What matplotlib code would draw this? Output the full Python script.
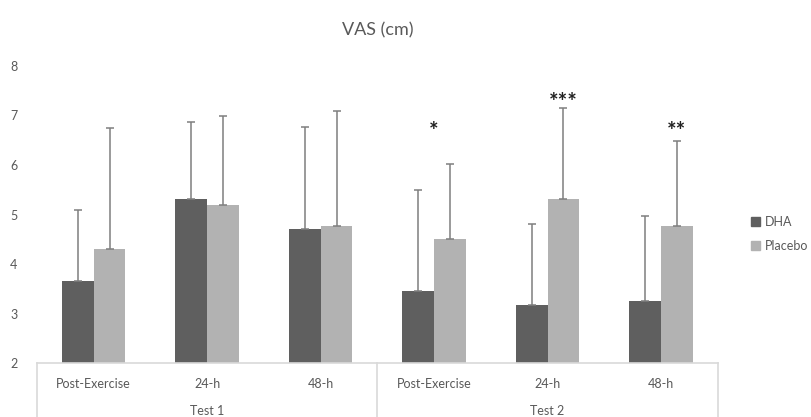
import numpy as np
import matplotlib
matplotlib.use("Agg")
import matplotlib.pyplot as plt
from matplotlib.lines import Line2D
from matplotlib.patches import Patch

plt.rcParams["font.family"] = ["Lato", "DejaVu Sans"]

# data
timepoints = ["Post-Exercise", "24-h", "48-h", "Post-Exercise", "24-h", "48-h"]
tests = ["Test 1", "Test 2"]
dha = [3.65, 5.31, 4.71, 3.46, 3.18, 3.25]
dha_sd = [1.45, 1.55, 2.05, 2.03, 1.62, 1.71]
placebo = [4.30, 5.19, 4.77, 4.51, 5.31, 4.77]
placebo_sd = [2.45, 1.80, 2.32, 1.51, 1.84, 1.71]
stars = ["", "", "", "*", "***", "**"]
star_y = [0, 0, 0, 6.84, 7.43, 6.84]

C_DHA = "#5f5f5f"
C_PLA = "#b2b2b2"
C_ERR = "#7f7f7f"
C_TXT = "#595959"
C_LINE = "#d9d9d9"

fig = plt.figure(figsize=(8.12, 4.17), dpi=100)
ax = fig.add_axes([37 / 812, 53.7 / 417, 680.7 / 812, 297.6 / 417])

x = np.arange(len(timepoints))
w = 0.28
ax.bar(x - w / 2, dha, w, color=C_DHA, label="DHA")
ax.bar(x + w / 2, placebo, w, color=C_PLA, label="Placebo")
ax.errorbar(x - w / 2, dha, yerr=[np.zeros(6), dha_sd], fmt="none",
            ecolor=C_ERR, elinewidth=1.1, capsize=3, capthick=1.1)
ax.errorbar(x + w / 2, placebo, yerr=[np.zeros(6), placebo_sd], fmt="none",
            ecolor=C_ERR, elinewidth=1.1, capsize=3, capthick=1.1)

# significance markers
sx = [0, 0, 0, 3, 4 + w / 2, 5 + w / 2]
for i, s in enumerate(stars):
    if s:
        ax.annotate(s, (sx[i], star_y[i]), xytext=(0, -6), textcoords="offset points",
                    ha="center", va="center", fontsize=16, fontweight="bold",
                    color="#222222")

ax.set_xlim(-0.5, 5.5)
ax.set_ylim(2, 8)
ax.set_yticks(range(2, 9))
ax.tick_params(axis="y", length=0, pad=14, labelsize=9, labelcolor=C_TXT)
ax.set_xticks([])
for sp in ["top", "right", "left"]:
    ax.spines[sp].set_visible(False)
ax.spines["bottom"].set_color(C_LINE)
ax.spines["bottom"].set_linewidth(1.2)

# two-level category axis
trans = ax.get_xaxis_transform()
for i, lab in enumerate(timepoints):
    ax.text(i, -0.07, lab, transform=trans, ha="center", va="center",
            fontsize=9, color=C_TXT)
for j, t in enumerate(tests):
    ax.text(1 + 3 * j, -0.16, t, transform=trans, ha="center", va="center",
            fontsize=9, color=C_TXT)
for xv in [-0.5, 2.5, 5.5]:
    ax.add_line(Line2D([xv, xv], [0, -0.2], transform=trans, color=C_LINE,
                       lw=1.2, clip_on=False))

ax.set_title("VAS (cm)", fontsize=13, color=C_TXT, pad=22)

handles = [Patch(color=C_DHA, label="DHA"), Patch(color=C_PLA, label="Placebo")]
fig.legend(handles=handles, loc="center left", bbox_to_anchor=(740 / 812, 1 - 234 / 417),
           frameon=False, fontsize=9, labelcolor=C_TXT, handlelength=0.7,
           handleheight=0.7, handletextpad=0.4, labelspacing=1.0)

fig.savefig("out.png", dpi=100)
